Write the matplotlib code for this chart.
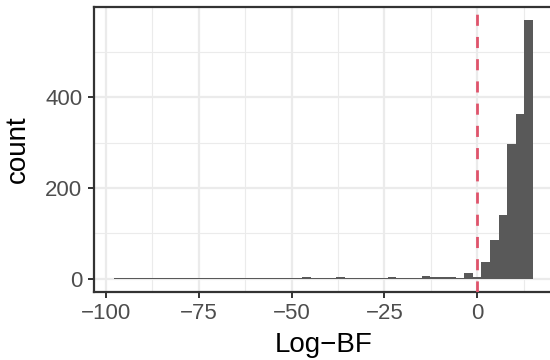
import matplotlib
matplotlib.use("Agg")
import matplotlib.pyplot as plt
import numpy as np

plt.rcParams['font.family'] = ['Liberation Sans', 'DejaVu Sans']

# histogram of log Bayes factors, bins centred on multiples of the bin width
binwidth = 2.3
bin_index = list(range(-42, 7))
counts = [1, 2, 1, 1, 2, 1, 1, 1, 2, 1,
          1, 1, 1, 2, 1, 1, 1, 1, 1, 2,
          1, 2, 3, 1, 1, 1, 3, 2, 1, 1,
          1, 1, 3, 2, 2, 2, 6, 4, 4, 4,
          2, 12, 5, 38, 85, 140, 297, 364, 570]
threshold = 0

centers = np.array(bin_index) * binwidth

fig = plt.figure(figsize=(5.5, 3.6), dpi=100)
ax = fig.add_axes([93.5 / 550, 1 - 291.7 / 360, (553.6 - 93.5) / 550, (291.7 - 7.3) / 360])

ax.bar(centers, counts, width=binwidth, color="#595959", linewidth=0, zorder=3)
ax.axvline(threshold, color="#DF536B", linewidth=2.0, dashes=(4, 4), zorder=4)

ax.set_xticks([-100, -75, -50, -25, 0])
ax.set_xticks(np.arange(-87.5, 25, 25), minor=True)
ax.set_yticks([0, 200, 400])
ax.set_yticks([100, 300, 500], minor=True)

# ggplot-like 5% expansion
lo, hi = centers.min() - binwidth / 2, centers.max() + binwidth / 2
ax.set_xlim(lo - 0.05 * (hi - lo), hi + 0.05 * (hi - lo))
ax.set_ylim(-0.05 * max(counts), 1.05 * max(counts))

ax.grid(which="major", color="#EBEBEB", linewidth=1.6, zorder=0)
ax.grid(which="minor", color="#EBEBEB", linewidth=0.8, zorder=0)
ax.set_axisbelow(True)

for s in ax.spines.values():
    s.set_color("#333333")
    s.set_linewidth(1.6)
# panel runs past the image's right edge in the reference
ax.spines["right"].set_visible(False)

ax.tick_params(which="major", length=4.5, width=1.4, color="#333333",
               labelsize=16, labelcolor="#4D4D4D", pad=3.5)
ax.tick_params(which="minor", length=0)

ax.set_xlabel("Log\u2212BF", fontsize=20, labelpad=6)
ax.set_ylabel("count", fontsize=20, labelpad=10)

fig.savefig("out.png", dpi=100)
